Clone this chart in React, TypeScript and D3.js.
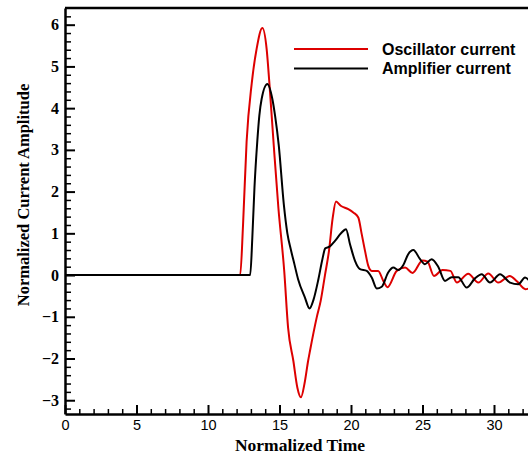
import React, { useEffect, useRef } from "react";
import * as d3 from "d3";

// oscillator current (red)
const oscTime = [0, 12.25, 12.45, 12.7, 13.06, 13.4, 13.8, 14.1, 14.29, 14.6, 14.92, 15.33, 15.6, 15.97, 16.25, 16.5, 16.75, 17.0, 17.13, 17.6, 17.88, 18.18, 18.46, 18.72, 18.95, 19.28, 19.81, 20.16, 20.51, 20.75, 20.98, 21.21, 21.45, 21.9, 22.26, 22.55, 23.2, 23.78, 24.3, 25.0, 25.35, 25.8, 26.4, 26.95, 27.4, 28.2, 28.9, 29.6, 30.3, 31.1, 31.6, 32.2, 32.6];
const oscValue = [0, 0, 1.2, 3.2, 4.6, 5.42, 5.92, 5.42, 4.61, 3.1, 1.62, 0.1, -1.26, -2.06, -2.7, -2.93, -2.6, -2.06, -1.82, -1.02, -0.62, 0, 0.58, 1.37, 1.76, 1.66, 1.58, 1.5, 1.38, 0.98, 0.58, 0.22, 0.1, 0.1, -0.14, -0.29, 0.1, 0.18, 0.05, 0.35, 0.32, -0.02, 0.12, 0.1, -0.18, 0.03, -0.18, 0.04, -0.18, -0.02, -0.15, -0.34, -0.3];

// amplifier current (black)
const ampTime = [0, 12.95, 13.1, 13.25, 13.45, 13.59, 13.75, 14.15, 14.5, 14.69, 14.95, 15.3, 15.55, 15.8, 16.05, 16.3, 16.78, 17.1, 17.37, 17.72, 18.0, 18.2, 18.5, 18.88, 19.3, 19.65, 19.93, 20.28, 20.63, 21.1, 21.45, 21.8, 22.15, 22.6, 22.96, 23.3, 23.66, 24.0, 24.36, 24.83, 25.17, 25.64, 26.1, 26.57, 27.04, 27.5, 28.09, 28.67, 29.14, 29.72, 30.42, 31.12, 31.7, 32.17, 32.6];
const ampValue = [0, 0, 0.9, 2.1, 3.22, 3.82, 4.22, 4.58, 4.22, 3.82, 3.1, 1.7, 1.0, 0.6, 0.25, -0.1, -0.54, -0.8, -0.6, -0.1, 0.38, 0.64, 0.68, 0.82, 1.0, 1.1, 0.74, 0.34, 0.14, 0.1, -0.06, -0.32, -0.28, 0.06, 0.18, 0.12, 0.24, 0.5, 0.6, 0.38, 0.26, 0.38, 0.2, -0.14, -0.05, -0.05, -0.3, -0.08, 0.02, -0.18, 0.02, -0.18, -0.22, -0.06, -0.2];

const xTicks = [0, 5, 10, 15, 20, 25, 30];
const yTicks = [-3, -2, -1, 0, 1, 2, 3, 4, 5, 6];
const seriesNames = ["Oscillator current", "Amplifier current"];
const seriesColors = ["#dd0000", "#000000"];

const width = 528,
  height = 455;
const left = 65,
  top = 8,
  bottom = 414;

export default function App() {
  const ref = useRef<SVGSVGElement>(null);

  useEffect(() => {
    const svg = d3.select(ref.current);
    svg.selectAll("*").remove();

    const x = d3.scaleLinear().domain([0, 33]).range([left, left + 33 * 14.3]);
    const y = d3.scaleLinear().domain([-3.33, 6.4]).range([bottom, top]);

    const line = d3
      .line<[number, number]>()
      .x((d) => x(d[0]))
      .y((d) => y(d[1]))
      .curve(d3.curveMonotoneX);

    const osc = oscTime.map((t, i) => [t, oscValue[i]] as [number, number]);
    const amp = ampTime.map((t, i) => [t, ampValue[i]] as [number, number]);

    svg.append("path").attr("d", line(osc)).attr("fill", "none").attr("stroke", seriesColors[0]).attr("stroke-width", 2);
    svg.append("path").attr("d", line(amp)).attr("fill", "none").attr("stroke", seriesColors[1]).attr("stroke-width", 2);

    // minor ticks
    const xMinor = d3.range(1, 33).filter((v) => v % 5 !== 0);
    svg
      .append("g")
      .attr("transform", `translate(0,${bottom})`)
      .call(d3.axisBottom(x).tickValues(xMinor).tickSize(-5).tickFormat(() => ""))
      .call((g) => g.select(".domain").remove())
      .selectAll("line")
      .attr("stroke-width", 1.5);
    const yMinor = d3.range(-16, 32).map((k) => k / 5).filter((v) => Math.abs(v - Math.round(v)) > 1e-6);
    svg
      .append("g")
      .attr("transform", `translate(${left},0)`)
      .call(d3.axisLeft(y).tickValues(yMinor).tickSize(-6).tickFormat(() => ""))
      .call((g) => g.select(".domain").remove())
      .selectAll("line")
      .attr("stroke-width", 1.5);

    // major axes
    const xAxis = svg
      .append("g")
      .attr("transform", `translate(0,${bottom})`)
      .call(d3.axisBottom(x).tickValues(xTicks).tickSize(-9).tickSizeOuter(0).tickPadding(6).tickFormat(d3.format("d")));
    xAxis.select(".domain").attr("stroke-width", 2.5);
    xAxis.selectAll(".tick line").attr("stroke-width", 2);
    xAxis.selectAll("text").style("font-family", "'Liberation Sans', Arial, sans-serif").style("font-size", "14.5px").attr("fill", "#000");

    const yAxis = svg
      .append("g")
      .attr("transform", `translate(${left},0)`)
      .call(d3.axisLeft(y).tickValues(yTicks).tickSize(-10).tickSizeOuter(0).tickPadding(6).tickFormat(d3.format("d")));
    yAxis.select(".domain").attr("stroke-width", 2.5);
    yAxis.selectAll(".tick line").attr("stroke-width", 2);
    yAxis
      .selectAll("text")
      .style("font-family", "'Liberation Serif', 'Times New Roman', serif")
      .style("font-weight", "bold")
      .style("font-size", "16px")
      .attr("fill", "#000");

    // top frame line
    svg.append("line").attr("x1", left).attr("x2", width).attr("y1", top).attr("y2", top).attr("stroke", "#000").attr("stroke-width", 2.5);

    // axis titles
    svg
      .append("text")
      .attr("x", 300)
      .attr("y", 451)
      .attr("text-anchor", "middle")
      .style("font-family", "'Liberation Serif', 'Times New Roman', serif")
      .style("font-weight", "bold")
      .style("font-size", "17.5px")
      .text("Normalized Time");
    svg
      .append("text")
      .attr("transform", "translate(29,195) rotate(-90)")
      .attr("text-anchor", "middle")
      .style("font-family", "'Liberation Serif', 'Times New Roman', serif")
      .style("font-weight", "bold")
      .style("font-size", "16.5px")
      .text("Normalized Current Amplitude");

    // legend
    const legend = svg.append("g");
    seriesNames.forEach((name, i) => {
      const ly = 49 + i * 19.5;
      legend.append("line").attr("x1", 294).attr("x2", 368).attr("y1", ly).attr("y2", ly).attr("stroke", seriesColors[i]).attr("stroke-width", 2);
      legend
        .append("text")
        .attr("x", 382)
        .attr("y", ly + 5.8)
        .style("font-family", "'Liberation Sans', Arial, sans-serif")
        .style("font-weight", "bold")
        .style("font-size", "16px")
        .text(name);
    });
  }, []);

  return <svg ref={ref} width={width} height={height} style={{ position: "absolute", left: 0, top: 0, background: "#fff" }} />;
}
